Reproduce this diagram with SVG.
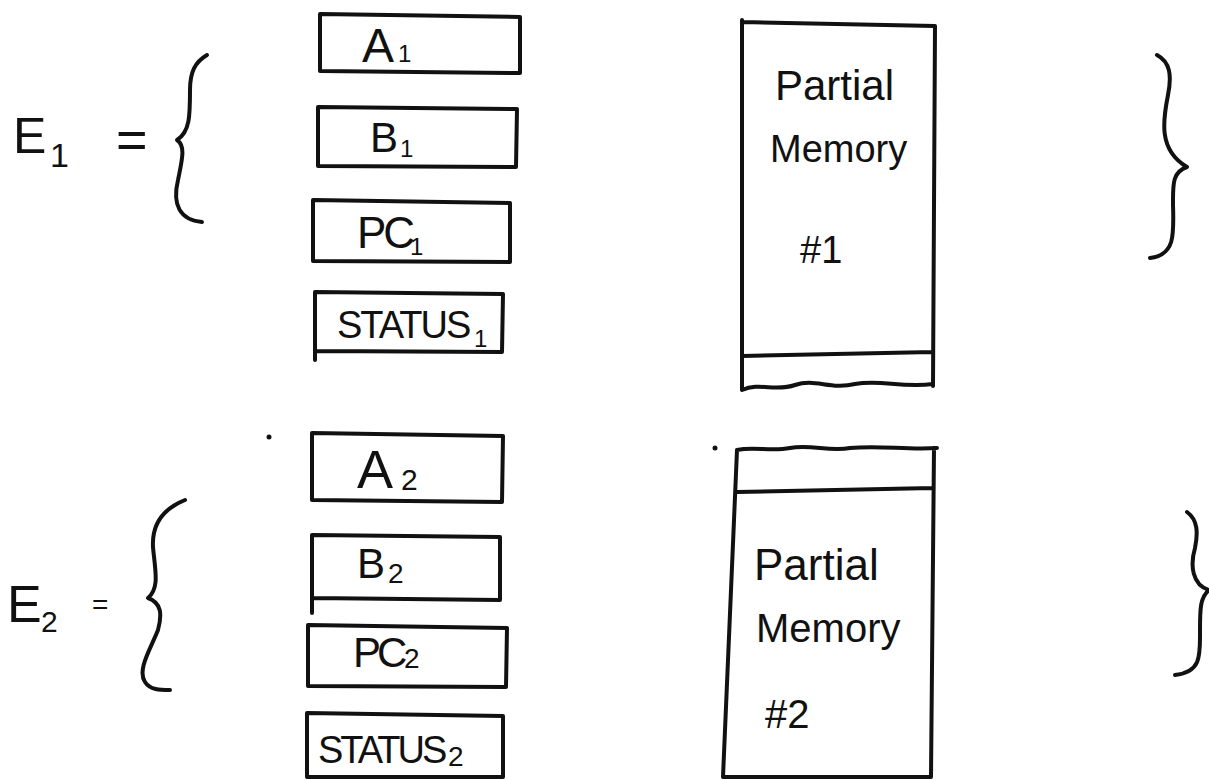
<svg xmlns="http://www.w3.org/2000/svg" width="1209" height="780" viewBox="0 0 1209 780">
<style>
.ink{fill:none;stroke:#111;stroke-width:4;stroke-linecap:round;stroke-linejoin:round}
.t{font-family:"Liberation Sans",Arial,sans-serif;fill:#111}
</style>
<rect width="1209" height="780" fill="#fff"/>
<g id="E1-label">
<text class="t" x="13" y="153" font-size="50">E<tspan x="50" y="167" font-size="34">1</tspan><tspan x="116" y="158" font-size="54">=</tspan></text>
</g>
<g id="E2-label">
<text class="t" x="7" y="622" font-size="52">E<tspan x="41" y="632" font-size="30">2</tspan><tspan x="92" y="614" font-size="28">=</tspan></text>
</g>
<g id="brace-E1"><path class="ink" d="M207,55 C195,62 190,72 190,90 C190,115 190,132 177,140 C186,146 182,160 178,180 C172,205 180,220 202,222"/></g>
<g id="brace-E2"><path class="ink" d="M185,500 C160,510 152,528 153,547 C155,570 160,588 148,598 C162,603 162,615 158,630 C150,650 137,670 145,682 C150,690 160,690 170,690"/></g>
<g id="brace-right-1"><path class="ink" d="M1157,55 C1170,62 1172,75 1168,95 C1163,120 1158,150 1187,167 C1172,172 1173,185 1173,205 C1174,235 1175,255 1150,258"/></g>
<g id="brace-right-2"><path class="ink" d="M1187,512 C1198,520 1198,533 1195,548 C1190,565 1192,585 1209,590 C1200,597 1200,610 1200,630 C1200,655 1202,672 1175,675"/></g>
<g id="A1"><path class="ink" d="M320,14 L520,17 L520,73 L320,71 Z"/><text class="t" x="362" y="62" font-size="48">A<tspan x="398" y="62" font-size="24">1</tspan></text></g>
<g id="B1"><path class="ink" d="M318,107 L517,109 L516,167 L318,166 Z"/><text class="t" x="370" y="152" font-size="42">B<tspan x="400" y="157" font-size="24">1</tspan></text></g>
<g id="PC1"><path class="ink" d="M313,200 L510,203 L510,262 L313,261 Z"/><text class="t" x="357" y="248" font-size="44" letter-spacing="-3">PC<tspan x="410" y="255" font-size="24" letter-spacing="0">1</tspan></text></g>
<g id="STATUS1"><path class="ink" d="M315,292 L503,294 L502,352 L315,351 Z M315,351 L315,360"/><text class="t" x="337" y="338" font-size="38" letter-spacing="-2">STATUS<tspan x="474" y="347" font-size="24" letter-spacing="0">1</tspan></text></g>
<g id="mem1">
<path class="ink" d="M742,20 L742,390 M742,22 L935,26 L933,386 M742,356 L933,352 M742,390 C760,382 775,392 795,385 C815,378 830,390 855,384 C880,379 900,388 933,384"/>
<text class="t" x="775" y="100" font-size="42">Partial</text>
<text class="t" x="770" y="162" font-size="38">Memory</text>
<text class="t" x="800" y="263" font-size="38">#1</text>
</g>
<g id="A2"><path class="ink" d="M312,433 L503,436 L502,502 L312,500 Z"/><text class="t" x="357" y="488" font-size="54">A<tspan x="401" y="490" font-size="30">2</tspan></text></g>
<g id="B2"><path class="ink" d="M312,535 L500,537 L500,600 L312,598 Z M312,598 L312,613"/><text class="t" x="357" y="578" font-size="42">B<tspan x="388" y="583" font-size="28">2</tspan></text></g>
<g id="PC2"><path class="ink" d="M308,625 L507,628 L506,687 L308,686 Z"/><text class="t" x="353" y="667" font-size="42" letter-spacing="-4">PC<tspan x="404" y="668" font-size="28" letter-spacing="0">2</tspan></text></g>
<g id="STATUS2"><path class="ink" d="M307,713 L503,716 L503,777 L307,777 Z"/><text class="t" x="318" y="763" font-size="38" letter-spacing="-3">STATUS<tspan x="448" y="766" font-size="28" letter-spacing="0">2</tspan></text></g>
<g id="mem2">
<path class="ink" d="M737,450 C755,446 770,452 790,448 C810,444 830,452 850,448 C880,445 905,450 937,448 M737,450 L723,777 L931,777 L934,448 M737,492 L933,488"/>
<text class="t" x="754" y="580" font-size="44">Partial</text>
<text class="t" x="756" y="642" font-size="40">Memory</text>
<text class="t" x="765" y="728" font-size="40">#2</text>
</g>
<g id="dots"><circle cx="269" cy="437" r="2.5" fill="#111"/><circle cx="715" cy="448" r="2.5" fill="#111"/></g>
</svg>
